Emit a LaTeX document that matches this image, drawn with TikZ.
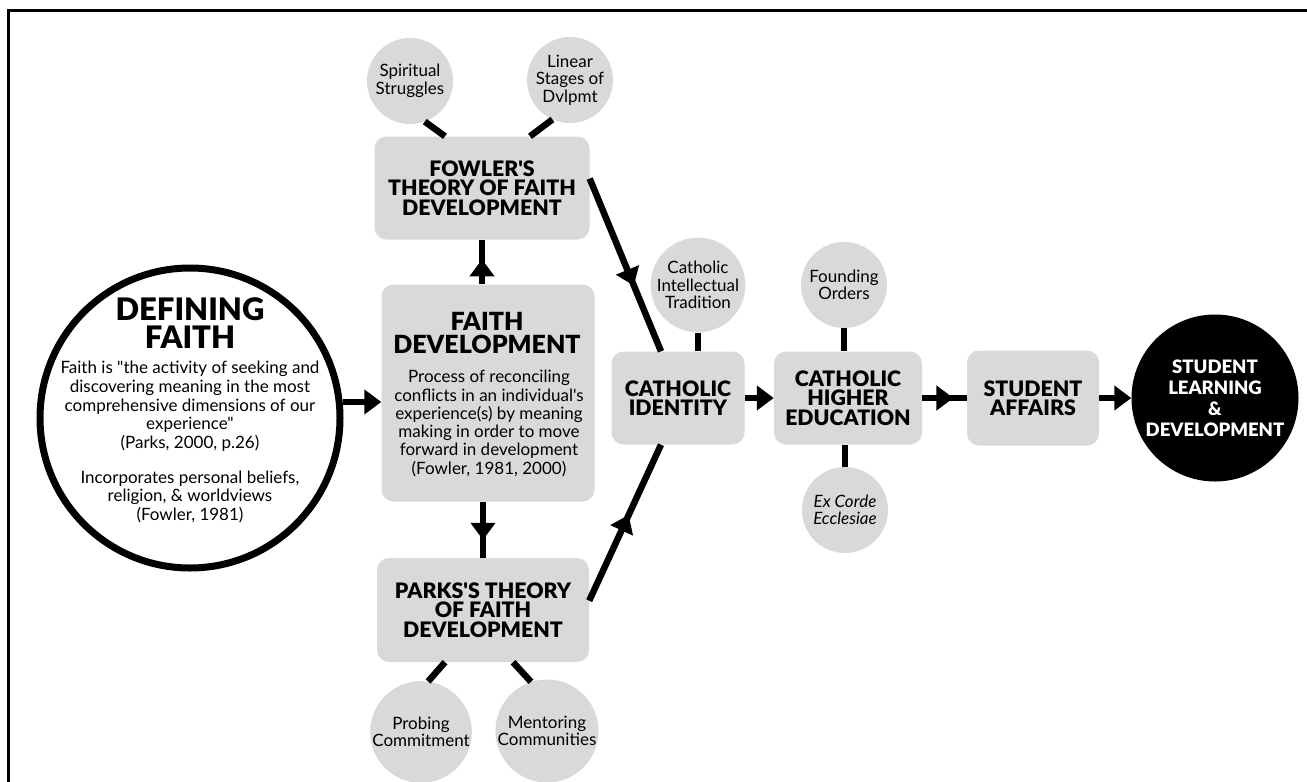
\documentclass[tikz,border=0pt]{standalone}
\usepackage{fontspec}
\setmainfont{Lato}[Ligatures=TeXOff]
\newfontfamily\heavyfont{Lato Black}[Ligatures=TeXOff]
\usetikzlibrary{positioning, arrows.meta, decorations.markings, calc}

\definecolor{boxgray}{RGB}{217,217,217}

\tikzset{
  topic/.style={rectangle, rounded corners=12pt, fill=boxgray, align=center, inner sep=0pt, font=\heavyfont\fontsize{21.3}{19.5}\selectfont},
  idea/.style={circle, fill=boxgray, minimum size=86pt, inner sep=0pt, align=center, font=\fontsize{17}{17.5}\selectfont},
  note/.style={align=center, inner sep=0pt, font=\fontsize{17}{18.7}\selectfont},
  link/.style={line width=6.5pt},
  flow/.style={link, -{Triangle[length=17pt,width=24pt]}},
  midflow/.style={link, postaction={decorate}, decoration={markings, mark=at position #1 with {\arrow{Triangle[length=17pt,width=24pt]}}}},
}

\begin{document}
\begin{tikzpicture}[x=1pt, y=-1pt, node distance=170pt]
	\useasboundingbox (0,0) rectangle (1307,782);
	\draw[line width=3pt] (8,782) -- (8,10) -- (1307,10);

	% defining faith
	\node[circle, draw, line width=7pt, minimum size=300pt] (df) at (190,418) {};
	\node[note, anchor=north, font=\heavyfont\fontsize{31}{28}\selectfont] (dftitle) at (190,297) {DEFINING\\FAITH};
	\node[note, anchor=north] (dftext) at (190,361) {Faith is "the activity of seeking and\\discovering meaning in the most\\comprehensive dimensions of our\\experience"\\(Parks, 2000, p.26)\\[16pt]Incorporates personal beliefs,\\religion, \& worldviews\\(Fowler, 1981)};

	% faith development and the two theories
	\node[topic, minimum width=213pt, minimum height=217pt] (fd) at (488,393) {};
	\node[note, anchor=north, font=\heavyfont\fontsize{25}{23.5}\selectfont] (fdtitle) at (487,312) {FAITH\\DEVELOPMENT};
	\node[note, anchor=north, font=\fontsize{17}{18.3}\selectfont] (fdtext) at (489,370) {Process of reconciling\\conflicts in an individual's\\experience(s) by meaning\\making in order to move\\forward in development\\(Fowler, 1981, 2000)};
	\node[topic, minimum width=215pt, minimum height=103pt, above of=fd, node distance=205pt, xshift=-6pt] (fowler) {FOWLER'S\\THEORY OF FAITH\\DEVELOPMENT};
	\node[topic, minimum width=212pt, minimum height=104pt, below of=fd, node distance=205pt, yshift=-12pt, xshift=-5pt] (parks) {PARKS'S THEORY\\OF FAITH\\DEVELOPMENT};
	\node[idea, above of=fowler, node distance=107pt, xshift=-72pt] (spirit) {Spiritual\\Struggles};
	\node[idea, above of=fowler, node distance=108pt, xshift=88pt] (linear) {Linear\\Stages of\\Dvlpmt};
	\node[idea, minimum size=97pt, below of=parks, node distance=122pt, xshift=-62pt] (probing) {Probing\\Commitment};
	\node[idea, minimum size=97pt, below of=parks, node distance=121pt, xshift=64pt] (mentoring) {Mentoring\\Communities};

	% main row
	\node[topic, minimum width=133pt, minimum height=93pt] (ci) at (678,398) {CATHOLIC\\IDENTITY};
	\node[topic, minimum width=148pt, minimum height=93pt, right of=ci] (che) {CATHOLIC\\HIGHER\\EDUCATION};
	\node[topic, minimum width=132pt, minimum height=95pt, right of=che, xshift=15pt] (sa) {STUDENT\\AFFAIRS};
	\node[circle, fill=black, text=white, minimum size=167pt, inner sep=0pt, align=center, font=\heavyfont\fontsize{18.5}{21}\selectfont, right of=sa, xshift=12pt] (sld) {STUDENT\\LEARNING\\\&\\DEVELOPMENT};
	\node[idea, above of=ci, node distance=113pt, xshift=20pt] (cit) {Catholic\\Intellectual\\Tradition};
	\node[idea, above of=che, node distance=113pt, xshift=-4pt] (founding) {Founding\\Orders};
	\node[idea, below of=che, node distance=112pt, xshift=-3pt] (excorde) {\textit{Ex Corde}\\\textit{Ecclesiae}};

	% connectors
	\draw[flow] (df.6) -- (df.6 -| fd.west);
	\draw[midflow=0.56] (fowler.south |- fd.north) -- (fowler.south);
	\draw[midflow=0.68] (fd.south -| parks.north) -- (parks.north);
	\draw[midflow=0.62] (fowler.5) -- (ci.110);
	\draw[midflow=0.55] (parks.5) -- (ci.250);
	\draw[flow] (ci) -- (che);
	\draw[midflow=0.7] (che) -- (sa);
	\draw[flow] (sa) -- (sld);

	\draw[link] (spirit.290) -- ($(fowler.north)+(-37,0)$);
	\draw[link] (linear.246) -- ($(fowler.north)+(48,0)$);
	\draw[link] ($(parks.south)+(-38,0)$) -- (probing.82);
	\draw[link] ($(parks.south)+(30,0)$) -- (mentoring.108);
	\draw[link] (cit.south) -- (cit.south |- ci.north);
	\draw[link] (founding.south) -- (founding.south |- che.north);
	\draw[link] (excorde.north) -- (excorde.north |- che.south);
\end{tikzpicture}
\end{document}
